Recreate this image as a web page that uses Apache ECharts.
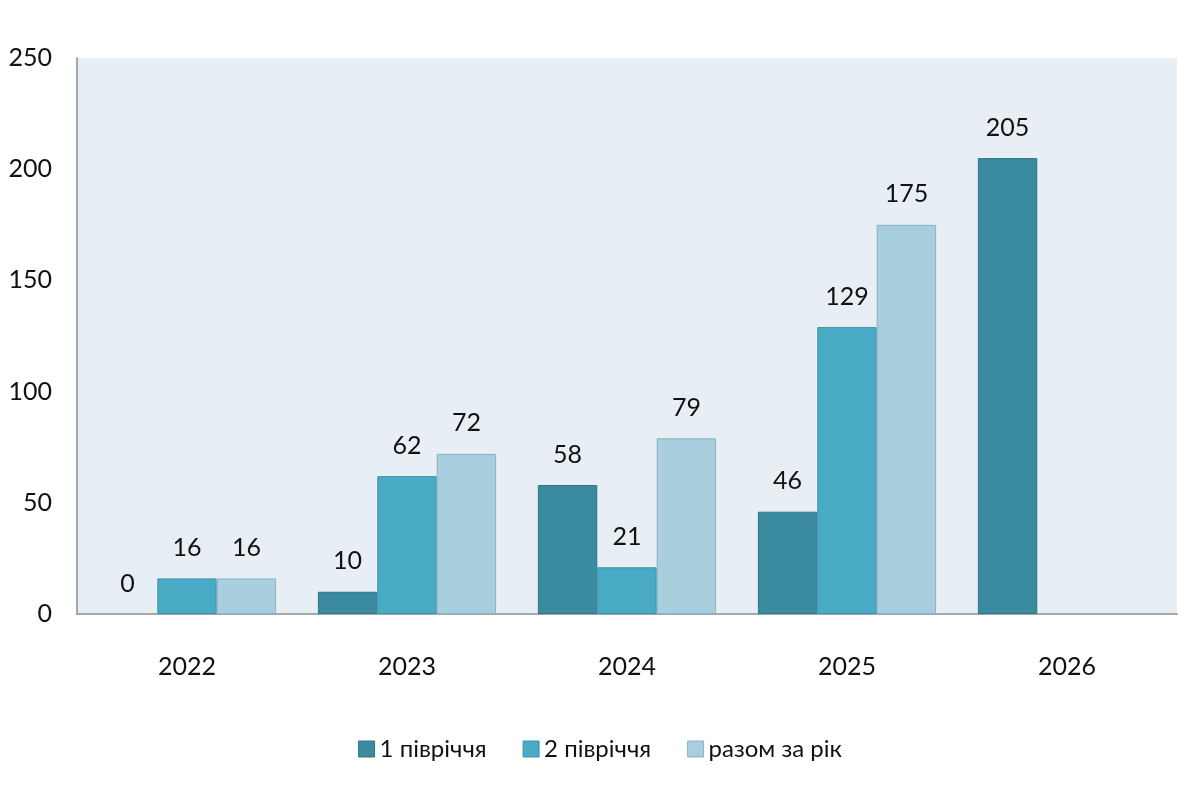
<!DOCTYPE html>
<html>
<head>
<meta charset="utf-8">
<script src="https://cdn.jsdelivr.net/npm/echarts@6/dist/echarts.min.js"></script>
<style>html,body{margin:0;padding:0;background:#fff;}#c{width:1200px;height:800px;}</style>
</head>
<body>
<div id="c"></div>
<script>
var categories = ['2022', '2023', '2024', '2025', '2026'];
var seriesNames = ['1 півріччя', '2 півріччя', 'разом за рік'];
var firstHalf = [0, 10, 58, 46, 205];
var secondHalf = [16, 62, 21, 129, null];
var yearTotal = [16, 72, 79, 175, null];
var yTicks = [0, 50, 100, 150, 200, 250];

var colors = ['#3a8aa0', '#4aabc6', '#a9cfdf'];
var borders = ['#2f7588', '#3b93ab', '#86b3c6'];
var font = 'Lato, "Open Sans", sans-serif';

function mk(name, data, i) {
  return {
    name: name,
    type: 'bar',
    data: data.map(function (v) {
      return v === 0 ? { value: 0, itemStyle: { borderWidth: 0 } } : v;
    }),
    barGap: '0%',
    barCategoryGap: '19%',
    itemStyle: { color: colors[i], borderColor: borders[i], borderWidth: 1 },
    label: {
      show: true, position: 'top', distance: 18,
      color: '#111111', fontSize: 25, fontFamily: font
    },
    emphasis: { disabled: true }
  };
}

var chart = echarts.init(document.getElementById('c'));
chart.setOption({
  animation: false,
  backgroundColor: '#ffffff',
  legend: {
    bottom: 34, left: 'center', icon: 'rect',
    itemWidth: 16, itemHeight: 16, itemGap: 36,
    textStyle: { fontSize: 24, color: '#111111', fontFamily: font },
    data: seriesNames.map(function (n, i) {
      return { name: n, itemStyle: { color: colors[i], borderColor: borders[i], borderWidth: 1 } };
    })
  },
  grid: {
    left: 77, right: 23, top: 58, bottom: 186,
    show: true, backgroundColor: '#e8eff4', borderWidth: 0
  },
  xAxis: {
    type: 'category', data: categories,
    axisLine: { lineStyle: { color: '#a3a8ac', width: 2 } },
    axisTick: { show: false },
    axisLabel: { margin: 40, fontSize: 25, color: '#111111', fontFamily: font }
  },
  yAxis: {
    type: 'value', min: yTicks[0], max: yTicks[yTicks.length - 1], interval: 50,
    axisLine: { show: true, lineStyle: { color: '#a3a8ac', width: 2 } },
    axisTick: { show: false },
    splitLine: { show: false },
    axisLabel: { margin: 25, fontSize: 25, color: '#111111', fontFamily: font }
  },
  series: [
    mk(seriesNames[0], firstHalf, 0),
    mk(seriesNames[1], secondHalf, 1),
    mk(seriesNames[2], yearTotal, 2)
  ]
});
</script>
</body>
</html>
